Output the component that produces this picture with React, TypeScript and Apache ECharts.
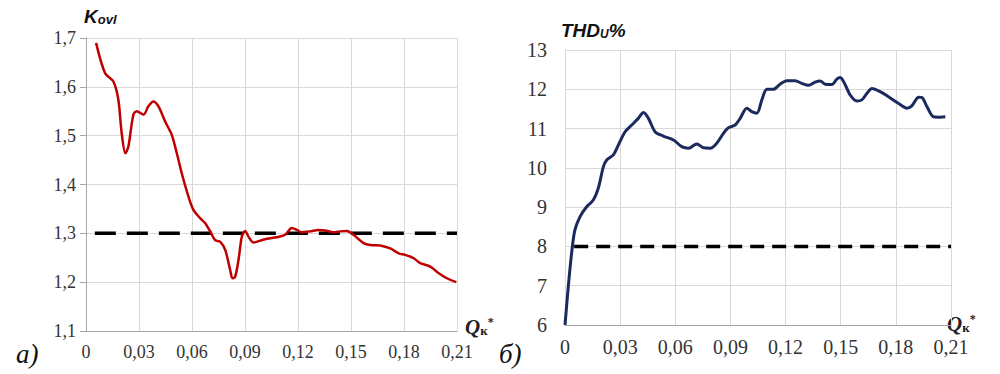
import React, { useEffect, useRef } from "react";
import * as echarts from "echarts";

// ---- data ----
const xTickValues = [0, 0.03, 0.06, 0.09, 0.12, 0.15, 0.18, 0.21];
const kovlTicks = [1.1, 1.2, 1.3, 1.4, 1.5, 1.6, 1.7];
const thdTicks = [6, 7, 8, 9, 10, 11, 12, 13];

const kovlX = [0.0057, 0.0108, 0.0155, 0.0183, 0.0202, 0.0223, 0.024, 0.0268, 0.0287, 0.0325, 0.0353, 0.0381, 0.041, 0.0448, 0.0485, 0.0514, 0.0542, 0.058, 0.0608, 0.0646, 0.0674, 0.0703, 0.0731, 0.0759, 0.0788, 0.0816, 0.0829, 0.0844, 0.0863, 0.0882, 0.0901, 0.092, 0.0948, 0.0986, 0.1024, 0.108, 0.1127, 0.1165, 0.1194, 0.1222, 0.1269, 0.1316, 0.1354, 0.1401, 0.1439, 0.1477, 0.1514, 0.1571, 0.1609, 0.1665, 0.1722, 0.177, 0.1807, 0.1855, 0.1892, 0.1949, 0.1987, 0.2043, 0.2096];
const kovlY = [1.69, 1.628, 1.611, 1.574, 1.505, 1.464, 1.478, 1.543, 1.55, 1.543, 1.56, 1.57, 1.56, 1.529, 1.502, 1.464, 1.423, 1.375, 1.348, 1.331, 1.321, 1.304, 1.286, 1.283, 1.266, 1.225, 1.208, 1.211, 1.245, 1.293, 1.305, 1.293, 1.281, 1.285, 1.289, 1.292, 1.297, 1.311, 1.307, 1.302, 1.304, 1.307, 1.306, 1.302, 1.304, 1.305, 1.297, 1.28, 1.276, 1.275, 1.269, 1.259, 1.256, 1.249, 1.239, 1.232, 1.221, 1.208, 1.2];

const thdX = [0, 0.0018, 0.0036, 0.0054, 0.0082, 0.0118, 0.0154, 0.0181, 0.0209, 0.0227, 0.0263, 0.029, 0.0327, 0.0363, 0.0399, 0.0427, 0.0454, 0.049, 0.0535, 0.059, 0.0635, 0.0672, 0.0717, 0.0754, 0.079, 0.0826, 0.0862, 0.0889, 0.0926, 0.0953, 0.0989, 0.1016, 0.1044, 0.1071, 0.1098, 0.1134, 0.117, 0.1207, 0.1252, 0.1288, 0.1325, 0.1361, 0.1388, 0.1416, 0.1452, 0.1479, 0.1497, 0.1525, 0.1552, 0.1588, 0.1615, 0.1643, 0.167, 0.1715, 0.176, 0.1815, 0.186, 0.1887, 0.1924, 0.1942, 0.1969, 0.2005, 0.2042, 0.2069];
const thdY = [6.0, 6.98, 7.83, 8.42, 8.76, 9.01, 9.18, 9.48, 10.03, 10.2, 10.33, 10.58, 10.92, 11.09, 11.26, 11.41, 11.26, 10.92, 10.81, 10.71, 10.54, 10.5, 10.61, 10.51, 10.5, 10.63, 10.88, 11.02, 11.09, 11.26, 11.52, 11.43, 11.39, 11.73, 12.0, 12.0, 12.13, 12.22, 12.22, 12.15, 12.1, 12.18, 12.21, 12.13, 12.12, 12.26, 12.3, 12.11, 11.85, 11.7, 11.73, 11.9, 12.02, 11.94, 11.81, 11.64, 11.52, 11.58, 11.8, 11.79, 11.56, 11.3, 11.29, 11.3];

const kovlLimit = 1.3;
const thdLimit = 8;
const limitX = [0.005, 0.21];

const zip = (xs: number[], ys: number[]) => xs.map((x, i) => [x, ys[i]]);

const xFmt = (v: number) => (v === 0 ? "0" : v.toFixed(2).replace(".", ","));

const SERIF = "'Liberation Serif', 'DejaVu Serif', serif";
const SANS = "'Liberation Sans', Arial, sans-serif";

export default function App() {
  const ref = useRef<HTMLDivElement>(null);
  useEffect(() => {
    document.body.style.margin = "0";
    const chart = echarts.init(ref.current!, undefined, { renderer: "svg" });
    const gridColor = "#d9d9d9";
    const axisColor = "#a6a6a6";
    const xAxisBase = (gi: number, fs: number) => ({
      type: "value",
      gridIndex: gi,
      min: xTickValues[0],
      max: xTickValues[xTickValues.length - 1],
      interval: 0.03,
      axisLine: { show: true, onZero: false, lineStyle: { color: axisColor, width: 1 } },
      axisTick: { show: false },
      splitLine: { show: true, lineStyle: { color: gridColor, width: 1 } },
      axisLabel: {
        formatter: xFmt,
        fontFamily: SERIF,
        fontSize: fs,
        color: "#333",
        margin: 12,
        showMaxLabel: true,
        showMinLabel: true,
      },
    });
    chart.setOption({
      animation: false,
      backgroundColor: "#fff",
      grid: [
        { left: 86, top: 38, width: 371, height: 293 },
        { left: 565, top: 50, width: 386, height: 275 },
      ],
      xAxis: [xAxisBase(0, 18), xAxisBase(1, 20)],
      yAxis: [
        {
          type: "value",
          gridIndex: 0,
          min: kovlTicks[0],
          max: kovlTicks[kovlTicks.length - 1],
          interval: 0.1,
          axisLine: { show: true, lineStyle: { color: axisColor } },
          axisTick: { show: true, length: 6, lineStyle: { color: axisColor } },
          splitLine: { show: true, lineStyle: { color: gridColor } },
          axisLabel: {
            formatter: (v: number) => v.toFixed(1).replace(".", ","),
            fontFamily: SERIF,
            fontSize: 18,
            color: "#333",
            margin: 10,
          },
        },
        {
          type: "value",
          gridIndex: 1,
          min: thdTicks[0],
          max: thdTicks[thdTicks.length - 1],
          interval: 1,
          axisLine: { show: true, lineStyle: { color: gridColor } },
          axisTick: { show: false },
          splitLine: { show: true, lineStyle: { color: gridColor } },
          axisLabel: {
            fontFamily: SERIF,
            fontSize: 20,
            color: "#333",
            margin: 18,
          },
        },
      ],
      series: [
        {
          type: "line",
          xAxisIndex: 0,
          yAxisIndex: 0,
          data: limitX.map((x) => [x, kovlLimit]),
          showSymbol: false,
          lineStyle: { color: "#000", width: 3.5, type: [21, 11] },
          z: 2,
        },
        {
          type: "line",
          xAxisIndex: 0,
          yAxisIndex: 0,
          data: zip(kovlX, kovlY),
          smooth: 0.3,
          showSymbol: false,
          lineStyle: { color: "#c00000", width: 2.5 },
          z: 3,
        },
        {
          type: "line",
          xAxisIndex: 1,
          yAxisIndex: 1,
          data: limitX.map((x) => [x, thdLimit]),
          showSymbol: false,
          lineStyle: { color: "#000", width: 3.5, type: [14, 8] },
          z: 2,
        },
        {
          type: "line",
          xAxisIndex: 1,
          yAxisIndex: 1,
          data: zip(thdX, thdY),
          smooth: 0.3,
          showSymbol: false,
          lineStyle: { color: "#1b2a5c", width: 3 },
          z: 3,
        },
      ],
      graphic: [
        {
          type: "text",
          left: 84,
          top: 7,
          style: {
            text: "{a|K}{b|ovl}",
            rich: {
              a: { fontFamily: SANS, fontWeight: "bold", fontStyle: "italic", fontSize: 19, fill: "#111", verticalAlign: "bottom" },
              b: { fontFamily: SANS, fontWeight: "bold", fontStyle: "italic", fontSize: 13, fill: "#111", verticalAlign: "bottom" },
            },
          },
        },
        {
          type: "text",
          left: 561,
          top: 21,
          style: {
            text: "{a|THD}{b|U}{a|%}",
            rich: {
              a: { fontFamily: SANS, fontWeight: "bold", fontStyle: "italic", fontSize: 19, fill: "#111", verticalAlign: "bottom" },
              b: { fontFamily: SANS, fontWeight: "bold", fontStyle: "italic", fontSize: 12, fill: "#111", verticalAlign: "bottom" },
            },
          },
        },
        {
          type: "text",
          left: 465,
          top: 316,
          style: {
            text: "{a|Q}{b|к}{c|*}",
            rich: {
              a: { fontFamily: SERIF, fontWeight: "bold", fontStyle: "italic", fontSize: 21, fill: "#222", verticalAlign: "bottom" },
              b: { fontFamily: SERIF, fontWeight: "bold", fontSize: 13, fill: "#222", verticalAlign: "bottom" },
              c: { fontFamily: SERIF, fontWeight: "bold", fontSize: 12, fill: "#222", verticalAlign: "top" },
            },
          },
        },
        {
          type: "text",
          left: 947,
          top: 313,
          style: {
            text: "{a|Q}{b|к}{c|*}",
            rich: {
              a: { fontFamily: SERIF, fontWeight: "bold", fontStyle: "italic", fontSize: 21, fill: "#222", verticalAlign: "bottom" },
              b: { fontFamily: SERIF, fontWeight: "bold", fontSize: 13, fill: "#222", verticalAlign: "bottom" },
              c: { fontFamily: SERIF, fontWeight: "bold", fontSize: 12, fill: "#222", verticalAlign: "top" },
            },
          },
        },
        {
          type: "text",
          left: 16,
          top: 340,
          style: { text: "a)", fontFamily: SERIF, fontStyle: "italic", fontSize: 27, fill: "#111" },
        },
        {
          type: "text",
          left: 499,
          top: 340,
          style: { text: "б)", fontFamily: SERIF, fontStyle: "italic", fontSize: 27, fill: "#111" },
        },
      ],
    });
    return () => chart.dispose();
  }, []);
  return <div ref={ref} style={{ width: 1000, height: 374 }} />;
}
